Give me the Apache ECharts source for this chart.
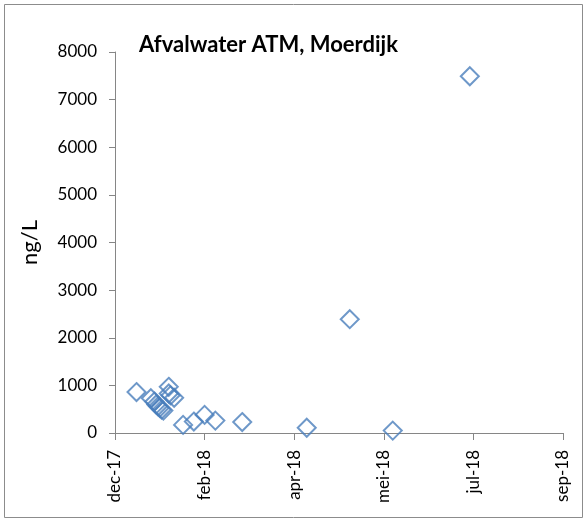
<!DOCTYPE html>
<html>
<head>
<meta charset="utf-8">
<script src="https://cdn.jsdelivr.net/npm/echarts@6/dist/echarts.min.js"></script>
<style>html,body{margin:0;padding:0;background:#fff}#c{width:587px;height:521px}</style>
</head>
<body>
<div id="c"></div>
<script>
// Sample dates and concentrations (ng/L)
const dates = ["2018-01-12","2018-01-20","2018-01-22","2018-01-23","2018-01-24","2018-01-25","2018-01-26","2018-01-27",
  "2018-01-30","2018-01-30","2018-01-31","2018-02-02","2018-02-07","2018-02-13","2018-02-19","2018-02-25",
  "2018-03-12","2018-04-17","2018-05-11","2018-06-04","2018-07-17"];
const values = [860,730,660,600,560,530,490,470,970,830,790,740,170,240,380,260,230,110,2390,50,7490];
const yTicks = [0,1000,2000,3000,4000,5000,6000,7000,8000];
const monthNames = ["jan","feb","mrt","apr","mei","jun","jul","aug","sep","okt","nov","dec"];
const title = "Afvalwater ATM, Moerdijk";
const yName = "ng/L";

// Excel-style serial day numbers
const EPOCH = Date.UTC(1899, 11, 30);
function serial(s){ const p = s.split("-").map(Number); return (Date.UTC(p[0], p[1]-1, p[2]) - EPOCH) / 86400000; }
function label(v){ const d = new Date(EPOCH + v*86400000); return monthNames[d.getUTCMonth()] + "-" + String(d.getUTCFullYear()).slice(2); }

const data = dates.map((d,i) => [serial(d), values[i]]);
const FONT = "Lato";
const AX = "#868686";

const chart = echarts.init(document.getElementById('c'));
chart.setOption({
  animation: false,
  backgroundColor: '#fff',
  graphic: [{type:'rect', shape:{x:4.5,y:4.5,width:578,height:513}, style:{fill:'none', stroke:'#8c8c8c', lineWidth:1}, silent:true}],
  title: {text: title, left: 134, top: 29, textStyle:{fontFamily: FONT, fontWeight:'bold', fontSize: 22, color:'#000'}},
  grid: {left:115, right:24, top:52, bottom:88, containLabel:false},
  xAxis: {
    type:'value', min:43100, max:43350, interval:50,
    axisLine:{show:true, lineStyle:{color:AX, width:1}},
    axisTick:{show:true, length:7, lineStyle:{color:AX}},
    splitLine:{show:false},
    axisLabel:{rotate:90, margin:17, fontFamily:FONT, fontSize:17, color:'#000', formatter: label}
  },
  yAxis: {
    type:'value', min:yTicks[0], max:yTicks[yTicks.length-1], interval:1000,
    name: yName, nameLocation:'middle', nameGap:74, nameRotate:90,
    nameTextStyle:{fontFamily:FONT, fontSize:22, color:'#000'},
    axisLine:{show:true, lineStyle:{color:AX, width:1}},
    axisTick:{show:true, length:6, lineStyle:{color:AX}},
    splitLine:{show:false},
    axisLabel:{margin:18, fontFamily:FONT, fontSize:17, color:'#000', formatter: v => String(v)}
  },
  series: [{
    type:'scatter', data: data, symbol:'diamond', symbolSize:18,
    itemStyle:{color:'rgba(0,0,0,0)', borderColor:'#4a7ebb', borderWidth:2}
  }]
});
</script>
</body>
</html>
